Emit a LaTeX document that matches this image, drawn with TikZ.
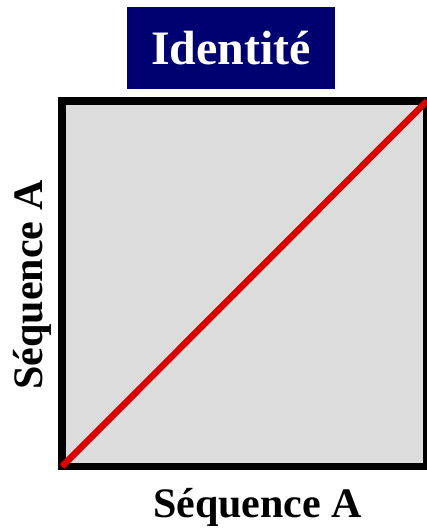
\documentclass[tikz,border=0pt]{standalone}
\usepackage{fontspec}
\setmainfont{Liberation Serif}
\definecolor{navy}{HTML}{000070}
\definecolor{panel}{HTML}{DCDCDC}
\definecolor{diag}{HTML}{D80000}
\begin{document}
\begin{tikzpicture}[x=1pt,y=-1pt,
  lbl/.style={font=\fontsize{42}{42}\selectfont\bfseries, inner sep=0pt, anchor=base},
  ttl/.style={fill=navy, text=white, font=\fontsize{48}{48}\selectfont\bfseries, inner sep=0pt, minimum width=208pt, minimum height=82pt}]
\useasboundingbox (0,0) rectangle (427,529);
\node[ttl] (title) at (231,48) {Identité};
\draw[line width=7.5pt, fill=panel] (62,101) rectangle (427,466.5);
\coordinate (bl) at (62,466.5);
\coordinate (tr) at (427,101);
\draw[diag, line width=6.5pt] (bl) -- (tr);
\node[lbl] (xlab) at (257.5,517) {Séquence A};
\node[lbl, rotate=90] (ylab) at (42,285) {Séquence A};
\end{tikzpicture}
\end{document}
